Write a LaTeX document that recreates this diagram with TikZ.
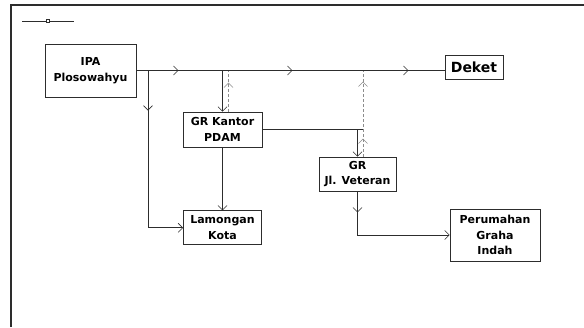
\documentclass[tikz,border=0pt]{standalone}
\usepackage{fontspec}
\setmainfont{DejaVu Sans}
\usepackage{tikz}
\usetikzlibrary{arrows.meta, positioning, calc, decorations.markings}
\definecolor{line-grey}{RGB}{45,45,45}
\definecolor{dash-grey}{RGB}{140,140,140}

\begin{document}
\begin{tikzpicture}[
    x=1pt, y=-1pt,
    box/.style={rectangle, draw=line-grey, line width=0.8pt, inner sep=0pt, align=center, font=\fontsize{11}{15.5}\selectfont\bfseries},
    pipe/.style={draw=line-grey, line width=0.8pt},
    back/.style={draw=dash-grey, line width=0.8pt, dash pattern=on 3pt off 2pt},
    tip/.style={-{Straight Barb[length=4.5pt, width=9pt, line width=0.6pt]}},
    midtip/.style={postaction={decorate, decoration={markings, mark=at position #1 with {\arrow{Straight Barb[length=4.5pt, width=9pt, line width=0.6pt]}}}}}
]
\useasboundingbox (0,0) rectangle (584,327);

% frame and legend
\draw[line-grey, line width=1.1pt] (11,327) -- (11,5) -- (584,5);
\coordinate (legend-a) at (22,21);
\coordinate (legend-b) at (74,21);
\draw[line-grey, line width=0.8pt] (legend-a) -- (legend-b);
\node[draw=line-grey, fill=white, inner sep=0pt, minimum size=3.5pt, line width=0.6pt] (legend-mark) at (48,21) {};

% sources and reservoirs
\node[box, minimum width=91pt, minimum height=53pt] (ipa) at (90.5,70.5) {IPA\\Plosowahyu};
\node[box, minimum width=58pt, minimum height=24pt, font=\fontsize{14}{16}\selectfont\bfseries] (deket) at (474,67) {Deket};
\node[box, minimum width=79pt, minimum height=35pt] (kantor) at (222.5,129.5) {GR Kantor\\PDAM};
\node[box, minimum width=78pt, minimum height=34pt, below=63pt of kantor] (lamongan) {Lamongan\\Kota};
\node[box, minimum width=77pt, minimum height=34pt] (veteran) at (357.5,174) {GR\\Jl. Veteran};
\node[box, minimum width=90pt, minimum height=52pt] (graha) at (495,235) {Perumahan\\Graha\\Indah};

% main line
\draw[pipe, midtip=42pt, midtip=156pt, midtip=272pt] (ipa.east) -- (ipa.east -| deket.west);

% branches
\coordinate (tee-lam) at (148,70.5);
\draw[pipe, tip, midtip=40pt] (tee-lam) |- (lamongan.west);
\draw[pipe, tip] (kantor.north |- ipa.east) -- (kantor.north);
\draw[pipe, tip] (kantor.south) -- (lamongan.north);

\coordinate (kantor-back) at ($(kantor.north)+(6,0)$);
\draw[back, midtip=29pt] (kantor-back) -- (kantor-back |- ipa.east);

\coordinate (veteran-back) at ($(veteran.north)+(5.5,0)$);
\draw[pipe] (kantor.east) -- (kantor.east -| veteran-back);
\draw[pipe, tip] (veteran.north |- kantor.east) -- (veteran.north);
\draw[back, midtip=18pt, midtip=75pt] (veteran-back) -- (veteran-back |- ipa.east);

\draw[pipe, tip, midtip=21pt] (veteran.south) |- (graha.west);

\end{tikzpicture}
\end{document}
